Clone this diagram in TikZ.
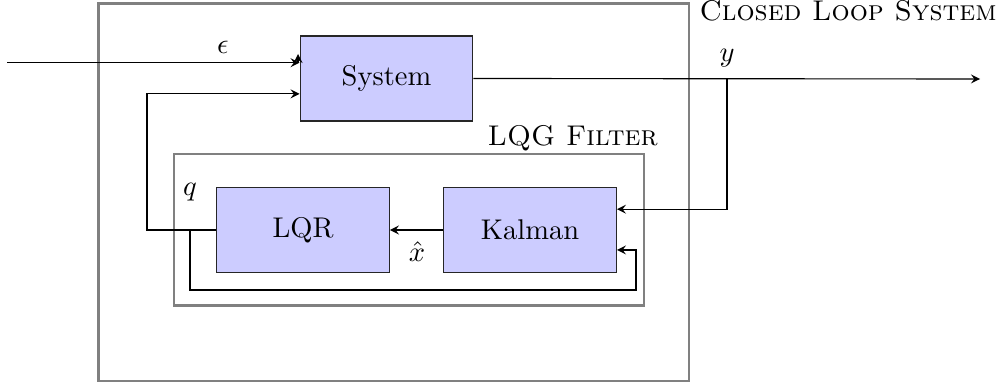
\documentclass[tikz,border=0pt]{standalone}
\usetikzlibrary{arrows}
\begin{document}
\begin{tikzpicture}[x=0.3509pt,y=-0.3509pt,>=stealth,
  blockbox/.style={draw=black!85,fill=blue!20,minimum width=60.6pt,minimum height=29.8pt,inner sep=0pt,line width=0.4pt},
  groupbox/.style={draw=gray,line width=0.8pt},
  sig/.style={line width=0.4pt,black},
  lbl/.style={inner sep=0pt}]
\useasboundingbox (0,0) rectangle (1008,387);
% group frames
\draw[groupbox] (98.5,3.5) rectangle (689,381);
\draw[groupbox] (174,154) rectangle (644,305.5);
\node[lbl,anchor=base west] (cls) at (699,21) {\textsc{Closed Loop System}};
\node[lbl,anchor=base west] (lqg) at (487,146) {\textsc{LQG Filter}};
% blocks
\node[blockbox] (sys) at (386.5,78.5) {System};
\node[blockbox] (lqr) at (303,230) {LQR};
\node[blockbox] (kal) at (530,230) {Kalman};
% coordinates
\coordinate (in) at (7,62.7);
\coordinate (eps) at (148,62.7);
\coordinate (fb) at (147,230);
\coordinate (ytap) at (727,79);
\coordinate (out) at (980,79);
\coordinate (lp) at (190,230);
\coordinate (lpr) at (636,290);
% signals
\draw[sig,->] (in) -- (in -| sys.west);
\draw[sig,->] (eps) -- (298,62.7) -- (298,54);
\draw[sig,->] (lqr.west) -- (fb) |- ([yshift=-5.4pt]sys.west);
\draw[sig,->] (sys.east) -- (out);
\draw[sig,->] (ytap) |- ([yshift=7.3pt]kal.east);
\draw[sig,->] (kal.west) -- (lqr.east);
\draw[sig,->] (lp) |- (lpr) |- ([yshift=-7pt]kal.east);
% labels
\node[lbl] (epsl) at (223,47) {$\epsilon$};
\node[lbl] (yl) at (727,58) {$y$};
\node[lbl] (ql) at (190,192) {$q$};
\node[lbl] (xl) at (417,252) {$\hat{x}$};
\end{tikzpicture}
\end{document}
